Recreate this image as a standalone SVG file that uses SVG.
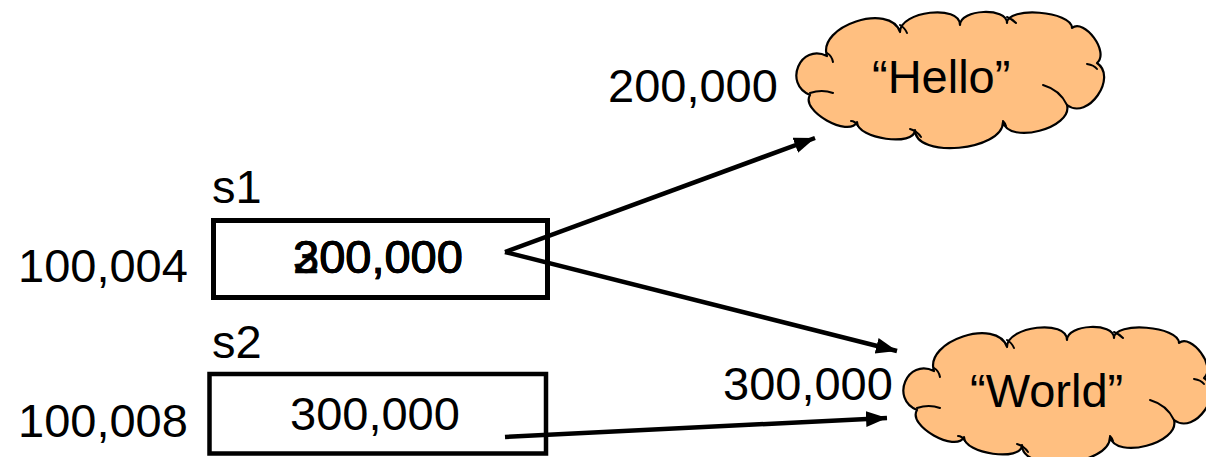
<svg xmlns="http://www.w3.org/2000/svg" xmlns:xlink="http://www.w3.org/1999/xlink" width="1206" height="457" viewBox="0 0 1206 457">
<style>
text{font-family:"Liberation Sans",Arial,sans-serif;font-size:47px;fill:#000}
.ov{stroke:#000;stroke-width:0.7}
.box{fill:#fff;stroke:#000}
.cloud{fill:#FFBF80;stroke:#000;stroke-width:2.2;stroke-linejoin:round}
.inner{fill:none;stroke:#000;stroke-width:2;stroke-linecap:round}
.conn{stroke:#000;stroke-width:4.5;fill:none;marker-end:url(#ah)}
</style>
<defs>
<marker id="ah" markerUnits="userSpaceOnUse" markerWidth="24" markerHeight="18" refX="21" refY="8" orient="auto">
<path d="M0,0 L21,8 L0,16 Z" fill="#000"/>
</marker>
<g id="cloud">
<path class="cloud" d="M827,56 C817,26 890,2 900,32 C900,11 960,4 960,25 C960,9 1007,7 1007,23 C1007,6 1072,11 1072,28 C1084,18 1110,52 1097,63 C1118,77 1088,121 1067,105 C1073,128 1009,145 1003,122 C1003,151 915,159 915,130 C915,147 857,139 857,122 C849,138 800,111 810,95 C783,84 800,43 827,56 Z"/>
<path class="inner" d="M810,93 Q822,89 833,93 M851,121 Q855,121 858,126 M910,129 Q917,131 921,137 M1003,121 Q1005,123 1006,126 M1043,85 Q1060,90 1067,105 M1087,64 Q1094,65 1097,69 M900,25 Q905,28 907,33 M1007,17 Q1012,19 1016,23 M827,53 Q832,56 833,62"/>
</g>
</defs>

<g id="s1">
<text x="212" y="203">s1</text>
<text x="18" y="282">100,004</text>
<rect class="box" x="213.5" y="220.5" width="334" height="77" stroke-width="5"/>
<text class="ov" x="293" y="273">200,000</text>
<text class="ov" x="293" y="273">300,000</text>
</g>

<g id="s2">
<text x="212" y="358">s2</text>
<text x="18" y="437">100,008</text>
<rect class="box" x="209.5" y="374" width="336.5" height="79.5" stroke-width="4.5"/>
<text x="290" y="430">300,000</text>
</g>

<g id="hello">
<use xlink:href="#cloud"/>
<text x="608" y="102">200,000</text>
<text x="872" y="93">“Hello”</text>
</g>

<g id="world">
<use xlink:href="#cloud" transform="translate(107,315)"/>
<text x="723" y="400">300,000</text>
<text x="970" y="407">“World”</text>
</g>

<g id="connectors">
<line class="conn" x1="505" y1="252" x2="815" y2="138"/>
<line class="conn" x1="505" y1="252" x2="897" y2="351"/>
<line class="conn" x1="505" y1="437" x2="887" y2="418"/>
</g>
</svg>
